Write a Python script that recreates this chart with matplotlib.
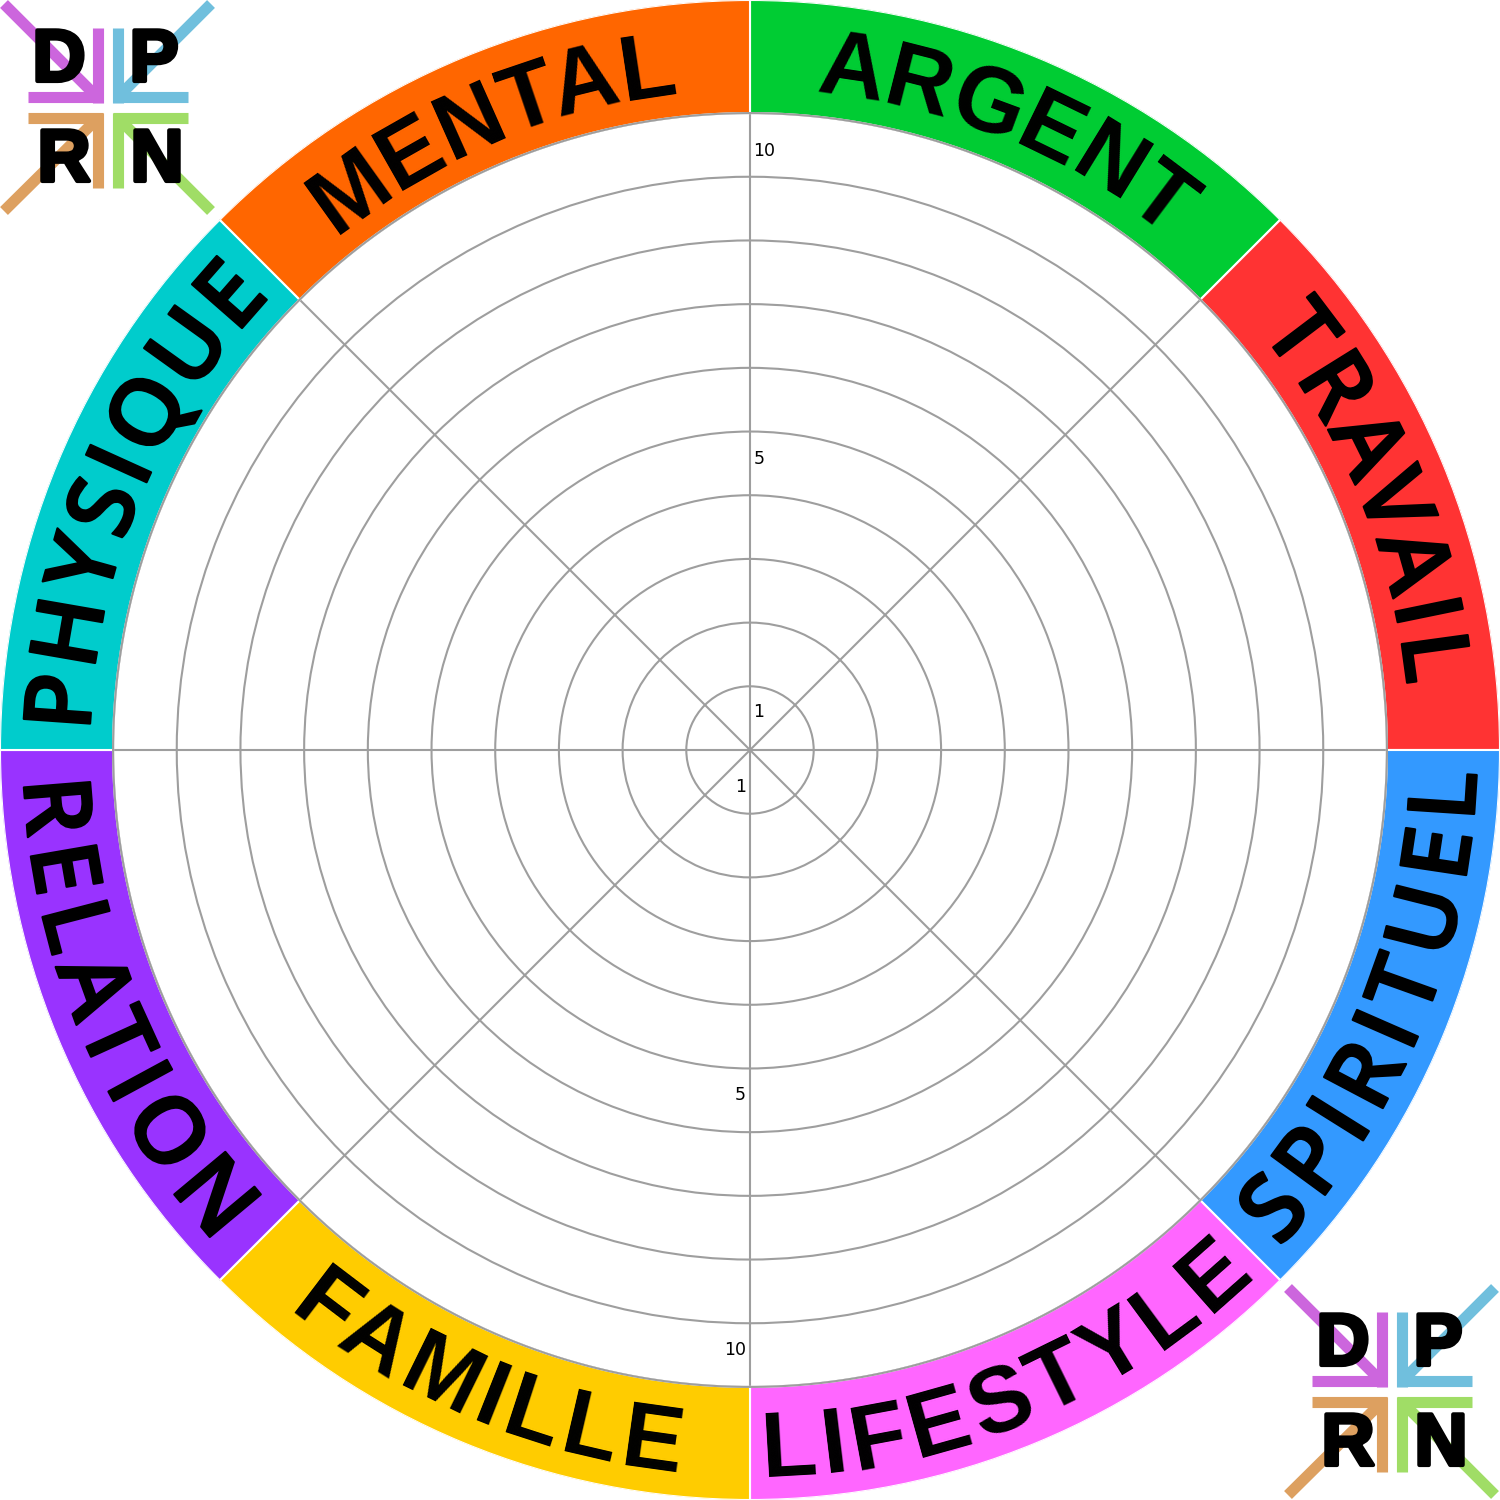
import numpy as np
import matplotlib.pyplot as plt
import matplotlib.patheffects as pe
from matplotlib.font_manager import FontProperties

# ---------------- donnees ----------------
categories = ['ARGENT', 'TRAVAIL', 'SPIRITUEL', 'LIFESTYLE',
              'FAMILLE', 'RELATION', 'PHYSIQUE', 'MENTAL']
couleurs = ['#00CC33', '#FF3333', '#3399FF', '#FF66FF',
            '#FFCC00', '#9933FF', '#00CCCC', '#FF6600']
polices = ['Liberation Sans', 'Open Sans', 'Open Sans', 'Liberation Sans',
           'Liberation Sans', 'Open Sans', 'Open Sans', 'Liberation Sans']
niveaux = np.arange(1, 11)
labels_haut = ['1', '5', '10']
labels_bas = ['1', '5', '10']
r_labels_haut = [0.60, 4.57, 9.40]
r_labels_bas = [0.58, 5.42, 9.42]
logo_lettres = ['D', 'P', 'R', 'N']
logo_couleurs = ['#CC66DD', '#70BFDD', '#DDA060', '#A0DD66']

# ---------------- figure ----------------
R_MAX = 11.775
fig = plt.figure(figsize=(15, 15), dpi=100, facecolor='w')
ax = fig.add_axes([0, 0, 1, 1], projection='polar')
ax.set_ylim(0, R_MAX)
ax.set_axisbelow(True)
ax.set_thetagrids(np.arange(0, 360, 45), labels=[''] * 8)
ax.set_rgrids(niveaux, labels=[''] * len(niveaux))
ax.grid(True, color='#9E9E9E', lw=1.5)
ax.spines['polar'].set_visible(False)

# anneau colore
theta0 = np.deg2rad(67.5 - 45 * np.arange(len(categories)))
ax.bar(theta0, R_MAX - 10, width=np.pi / 4, bottom=10, color=couleurs,
       edgecolor='white', lw=1.5, zorder=3)
tt = np.linspace(0, 2 * np.pi, 720)
ax.plot(tt, np.full_like(tt, 10), color='#9E9E9E', lw=1.5, zorder=4)

# textes courbes, lettre par lettre
renderer = fig.canvas.get_renderer()
px_unite = 750 / R_MAX
r_mid = 10 + (R_MAX - 10) / 2


def largeur(s, fp):
    if s == '':
        return 0.0
    w, h, d = renderer.get_text_width_height_descent(s, fp, ismath=False)
    return w


for txt, th, police in zip(categories, theta0, polices):
    if police == 'Open Sans':
        fp = FontProperties(family=police, weight='semibold', size=67)
        espace = 7.0
        effets = [pe.withStroke(linewidth=1.6, foreground='black')]
    else:
        fp = FontProperties(family=police, weight='bold', size=66)
        espace = 3.5
        effets = None
    cap = fp.get_size_in_points() * 100 / 72 * 0.716 / px_unite
    total = largeur(txt, fp) + espace * (len(txt) - 1)
    haut = np.sin(th) > 0
    for i, ch in enumerate(txt):
        c = largeur(txt[:i + 1], fp) + espace * i - largeur(ch, fp) / 2 - total / 2
        dth = c / (r_mid * px_unite)
        if haut:
            a = th - dth
            rot = np.rad2deg(a) - 90
            rb = r_mid - cap / 2
        else:
            a = th + dth
            rot = np.rad2deg(a) + 90
            rb = r_mid + cap / 2
        ax.text(a, rb, ch, fontproperties=fp, rotation=rot, path_effects=effets,
                rotation_mode='anchor', ha='center', va='baseline', zorder=5)

# graduations
for lab, r in zip(labels_haut, r_labels_haut):
    ax.annotate(lab, xy=(np.pi / 2, r), xytext=(2.5, 0), textcoords='offset points',
                ha='left', va='center', fontsize=12.5, family='DejaVu Sans', zorder=5)
for lab, r in zip(labels_bas, r_labels_bas):
    ax.annotate(lab, xy=(-np.pi / 2, r), xytext=(-3, 0), textcoords='offset points',
                ha='right', va='center', fontsize=12.5, family='DejaVu Sans', zorder=5)


# ---------------- logos ----------------
def logo(x0, y0, taille=215):
    lax = fig.add_axes([x0 / 1500, 1 - (y0 + taille) / 1500, taille / 1500, taille / 1500])
    lax.set_xlim(0, 215)
    lax.set_ylim(215, 0)
    lax.axis('off')
    kw = dict(lw=8, solid_capstyle='butt')
    # violet (haut gauche)
    lax.plot([98, 98], [28, 103], color=logo_couleurs[0], **kw)
    lax.plot([28, 103], [97, 97], color=logo_couleurs[0], **kw)
    lax.plot([4, 97], [4, 97], color=logo_couleurs[0], **kw)
    # bleu (haut droite)
    lax.plot([118, 118], [28, 103], color=logo_couleurs[1], **kw)
    lax.plot([113, 188], [97, 97], color=logo_couleurs[1], **kw)
    lax.plot([211, 118], [4, 97], color=logo_couleurs[1], **kw)
    # orange (bas gauche)
    lax.plot([98, 98], [113, 188], color=logo_couleurs[2], **kw)
    lax.plot([28, 103], [118, 118], color=logo_couleurs[2], **kw)
    lax.plot([4, 98], [211, 118], color=logo_couleurs[2], **kw)
    # vert (bas droite)
    lax.plot([118, 118], [113, 188], color=logo_couleurs[3], **kw)
    lax.plot([113, 188], [118, 118], color=logo_couleurs[3], **kw)
    lax.plot([211, 118], [211, 118], color=logo_couleurs[3], **kw)
    pos = [(59, 81), (154, 81), (64, 181), (157, 181)]
    for l, (x, y) in zip(logo_lettres, pos):
        lax.text(x, y, l, ha='center', va='baseline', fontsize=53,
                 family='Liberation Sans', weight='bold', color='black',
                 path_effects=[pe.withStroke(linewidth=3, foreground='black')])


logo(0, 0)
logo(1284, 1284)

fig.savefig('out.png', dpi=100, facecolor='w')
